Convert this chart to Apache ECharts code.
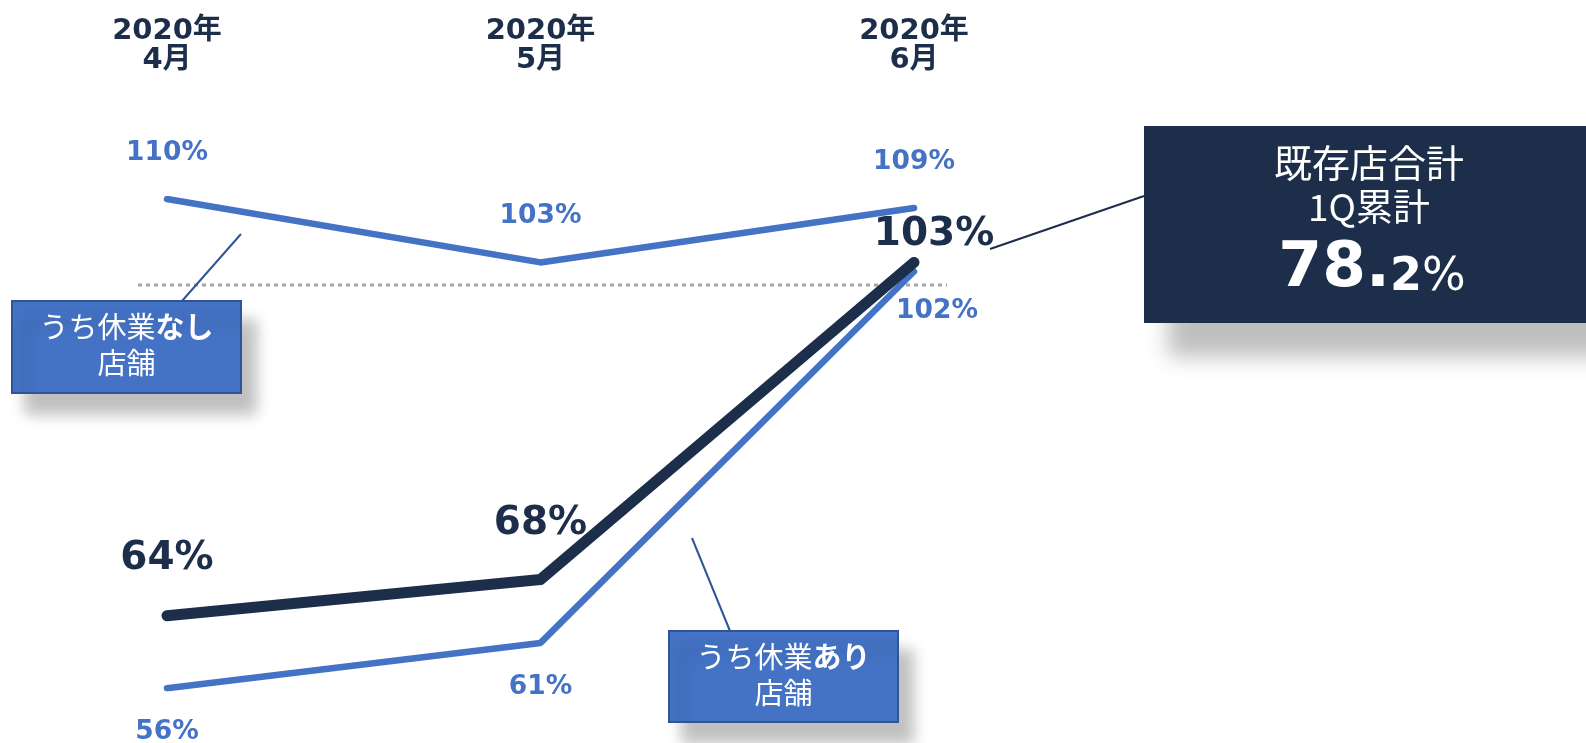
<!DOCTYPE html>
<html><head><meta charset="utf-8">
<style>html,body{margin:0;padding:0;background:#fff}#c{width:1586px;height:743px}</style>
<script src="https://cdn.jsdelivr.net/npm/echarts@6/dist/echarts.min.js"></script>
</head><body><div id="c"></div>
<script>
// ---- data ----
const categories = ['2020年\n4月', '2020年\n5月', '2020年\n6月'];
const noClosureStores = [110, 103, 109];   // うち休業なし店舗
const allStores = [64, 68, 103];           // 既存店合計
const closureStores = [56, 61, 102];       // うち休業あり店舗
const referenceLevel = 100.5;
const noClosureName = ['うち休業', 'なし', '店舗'];
const closureName = ['うち休業', 'あり', '店舗'];
const cumulativeTitle = ['既存店合計', '1Q累計'];
const cumulativeValue = ['78.', '2', '%'];

// ---- styles ----
const NAVY = '#1c2e4a', BLUE = '#4472c4', BORDER = '#2f5597';
const LATIN = "'DejaVu Sans', 'Noto Sans CJK JP', sans-serif";
const CJK = "'Noto Sans CJK JP', sans-serif";

const chart = echarts.init(document.getElementById('c'), null, {renderer: 'canvas'});

function withOffsets(values, offsets) {
  return values.map((v, i) => ({value: v, label: {offset: offsets[i]}}));
}
function lineSeries(name, values, offsets, color, width, fontSize, z) {
  return {
    name, type: 'line', data: withOffsets(values, offsets), z,
    symbol: 'circle', symbolSize: 1, showSymbol: true,
    itemStyle: {color},
    lineStyle: {color, width, cap: 'round', join: 'round'},
    label: {show: true, position: 'inside', formatter: p => p.value + '%',
      color, fontFamily: LATIN, fontWeight: 'bold', fontSize},
    emphasis: {disabled: true}, silent: true, animation: false
  };
}

function box(x, y, w, h, fill, stroke, shadow) {
  return {type: 'rect', shape: {x, y, width: w, height: h}, z: 10,
    style: {fill, stroke, lineWidth: stroke ? 2 : 0,
      shadowBlur: shadow[2], shadowOffsetX: shadow[0], shadowOffsetY: shadow[1],
      shadowColor: shadow[3]}};
}
function boxText(cx, cy, parts) {
  return {type: 'text', z: 11, style: {
    text: '{n|' + parts[0] + '}{b|' + parts[1] + '}\n{n|' + parts[2] + '}',
    x: cx, y: cy, align: 'center', verticalAlign: 'middle',
    rich: {
      n: {fontSize: 29, fontFamily: CJK, fill: '#fff', lineHeight: 36},
      b: {fontSize: 29, fontFamily: CJK, fill: '#fff', lineHeight: 36, fontWeight: 'bold'}
    }}};
}
function connector(x1, y1, x2, y2, color) {
  return {type: 'line', z: 9, shape: {x1, y1, x2, y2}, style: {stroke: color, lineWidth: 2}};
}

const option = {
  backgroundColor: '#fff',
  animation: false,
  grid: {left: 167, right: 672, top: 199, bottom: 54.8, containLabel: false, outerBoundsMode: 'none'},
  xAxis: {
    type: 'category', position: 'top', data: categories, boundaryGap: false,
    axisLine: {show: false}, axisTick: {show: false}, splitLine: {show: false},
    axisLabel: {interval: 0, margin: 124, fontSize: 29, fontWeight: 'bold', color: NAVY,
      fontFamily: LATIN, lineHeight: 29}
  },
  yAxis: {type: 'value', min: 56, max: 110, show: false},
  series: [
    lineSeries('うち休業なし店舗', noClosureStores, [[0, -46], [0, -46], [0, -46]], BLUE, 6.5, 26.5, 3),
    lineSeries('うち休業あり店舗', closureStores, [[0, 44], [0, 44], [23, 40]], BLUE, 6.5, 26.5, 3),
    lineSeries('既存店合計', allStores, [[0, -57], [0, -56], [20, -28]], NAVY, 11, 39, 4)
  ]
};
chart.setOption(option);

const refY = chart.convertToPixel({yAxisIndex: 0}, referenceLevel);
const lightShadow = 'rgba(0,0,0,0.25)';
chart.setOption({
  graphic: [
    {type: 'line', z: 1, shape: {x1: 138, y1: refY, x2: 947, y2: refY},
      style: {stroke: '#a6a6a6', lineWidth: 3, lineDash: [4, 4]}},
    connector(182, 301, 241, 234, BORDER),
    box(12, 301, 229, 92, BLUE, BORDER, [14, 20, 14, lightShadow]),
    boxText(126.5, 345, noClosureName),
    connector(730, 631, 692, 538, BORDER),
    box(669, 631, 229, 91, BLUE, BORDER, [14, 20, 14, lightShadow]),
    boxText(783.5, 675, closureName),
    connector(990, 249, 1144, 196, NAVY),
    box(1144, 126, 460, 197, NAVY, null, [24, 34, 20, lightShadow]),
    {type: 'text', z: 11, style: {text: cumulativeTitle[0], x: 1369, y: 163, align: 'center',
      verticalAlign: 'middle', fontSize: 38, fontFamily: CJK, fill: '#fff'}},
    {type: 'text', z: 11, style: {text: cumulativeTitle[1], x: 1369, y: 207, align: 'center',
      verticalAlign: 'middle', fontSize: 37, fontFamily: CJK, fill: '#fff'}},
    {type: 'text', z: 11, style: {
      text: '{a|' + cumulativeValue[0] + '}{b|' + cumulativeValue[1] + '}{c|' + cumulativeValue[2] + '}',
      x: 1372, y: 270, align: 'center', verticalAlign: 'middle',
      rich: {
        a: {fontSize: 63, fontWeight: 'bold', fontFamily: LATIN, fill: '#fff', verticalAlign: 'bottom'},
        b: {fontSize: 46, fontWeight: 'bold', fontFamily: LATIN, fill: '#fff', verticalAlign: 'bottom'},
        c: {fontSize: 46, fontFamily: LATIN, fill: '#fff', verticalAlign: 'bottom'}
      }}}
  ]
});
</script></body></html>
